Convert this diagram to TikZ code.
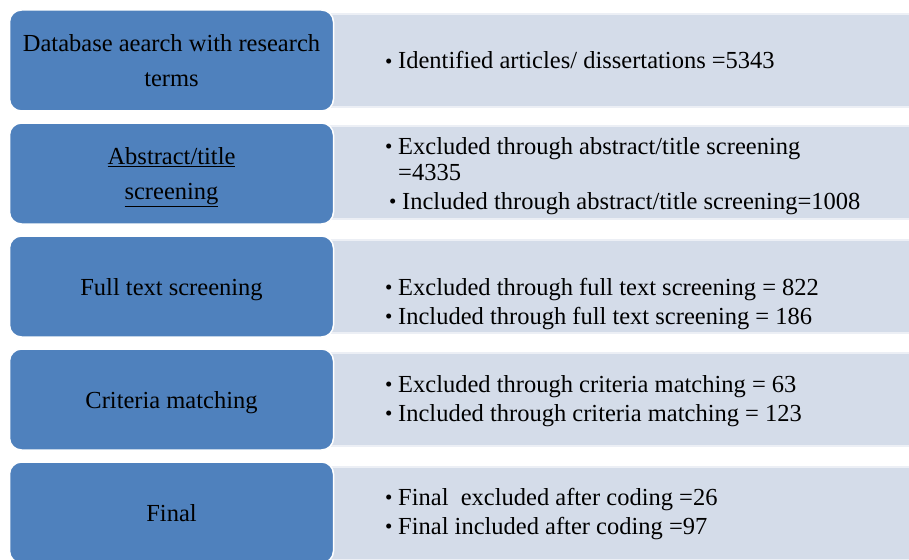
\documentclass[tikz,border=0pt]{standalone}
\usepackage{fontspec}
\setmainfont{Liberation Serif}
\usetikzlibrary{positioning}

\definecolor{stageblue}{RGB}{79,129,189}
\definecolor{notegrey}{RGB}{212,220,233}

\newcommand{\itemdot}{\makebox[13pt][l]{\fontsize{21}{21}\selectfont\raisebox{0.5pt}{\textbullet}}}

\tikzset{
  stagebox/.style={draw=white, line width=1.5pt, fill=stageblue, rounded corners=12pt,
    minimum width=324pt, minimum height=101pt, inner sep=0pt, align=center,
    text depth=0pt, font=\fontsize{24.5}{35}\selectfont},
  notebox/.style={draw=notegrey!45!white, line width=1.5pt, fill=notegrey,
    minimum width=600pt, minimum height=93pt, inner sep=0pt, anchor=west},
  notetext/.style={anchor=west, align=left, inner sep=0pt,
    font=\fontsize{24.5}{26}\selectfont}
}

\begin{document}
\begin{tikzpicture}[x=1pt, y=-1pt]
\useasboundingbox (0,0) rectangle (909,559);

% grey result bands (behind)
\node[notebox] (searchnote)   at (327,60.5)  {};
\node[notebox] (abstractnote) at (327,172.5) {};
\node[notebox] (fulltextnote) at (327,286.5) {};
\node[notebox] (criterianote) at (327,399.5) {};
\node[notebox] (finalnote)    at (327,513.5) {};

% blue stage boxes
\node[stagebox] (search)   at (171.5,60.5)  {Database aearch with research\\terms};
\node[stagebox] (abstract) at (171.5,173.5) {\underline{Abstract/title}\\\underline{screening}};
\node[stagebox] (fulltext) at (171.5,286.5) {Full text screening};
\node[stagebox] (criteria) at (171.5,399.5) {Criteria matching};
\node[stagebox] (final)    at (171.5,512.5) {Final};

% counts
\node[notetext] (searchitems) at (385,60)
  {\itemdot Identified articles/ dissertations =5343};
\node[notetext] (abstractitems) at (385,176)
  {\itemdot Excluded through abstract/title screening\\
   \hspace*{13pt}=4335\\[3pt]
   \hspace*{4pt}\itemdot Included through abstract/title screening=1008};
\node[notetext] (fulltextitems) at (385,304)
  {\itemdot Excluded through full text screening = 822\\[3pt]
   \itemdot Included through full text screening = 186};
\node[notetext] (criteriaitems) at (385,401)
  {\itemdot Excluded through criteria matching = 63\\[3pt]
   \itemdot Included through criteria matching = 123};
\node[notetext] (finalitems) at (385,514)
  {\itemdot Final~ excluded after coding =26\\[3pt]
   \itemdot Final included after coding =97};

\end{tikzpicture}
\end{document}
